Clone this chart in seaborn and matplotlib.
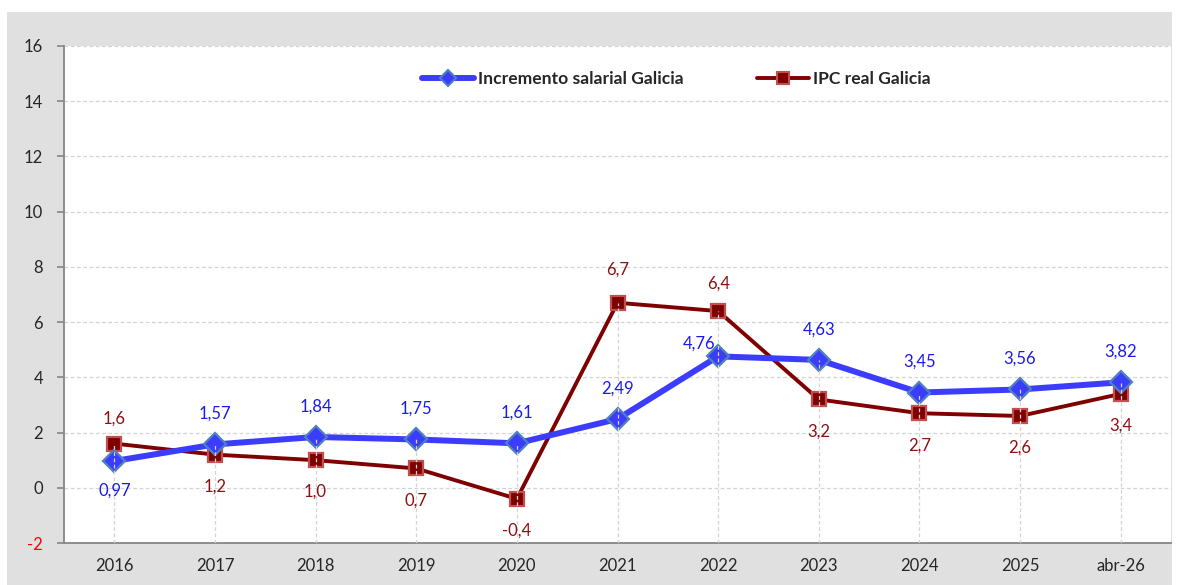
import matplotlib
matplotlib.use("Agg")
import matplotlib.pyplot as plt
import seaborn as sns
import numpy as np
import pandas as pd
from matplotlib.patches import Rectangle
from matplotlib.lines import Line2D

categories = ["2016", "2017", "2018", "2019", "2020", "2021", "2022", "2023", "2024", "2025", "abr-26"]
salarial = [0.97, 1.57, 1.84, 1.75, 1.61, 2.49, 4.76, 4.63, 3.45, 3.56, 3.82]
ipc = [1.6, 1.2, 1.0, 0.7, -0.4, 6.7, 6.4, 3.2, 2.7, 2.6, 3.4]
series_names = ["Incremento salarial Galicia", "IPC real Galicia"]
y_ticks = [-2, 0, 2, 4, 6, 8, 10, 12, 14, 16]

sns.set_theme(style="white")
plt.rcParams["font.family"] = ["Lato", "DejaVu Sans"]

BLUE = "#3c3cff"
BLUE_EDGE = "#4f81bd"
DARKRED = "#7f0000"
RED_EDGE = "#c0504d"
BLUE_TXT = "#1a1aee"
RED_TXT = "#8b1010"
FS = 12

fig = plt.figure(figsize=(11.78, 5.85), dpi=100)
fig.patch.set_facecolor("white")
bg = Rectangle((7 / 1178, 0), (1172 - 7) / 1178, 1 - 12 / 585,
               transform=fig.transFigure, facecolor="#e0e0e0",
               edgecolor="none", zorder=-10)
fig.add_artist(bg)
ax = fig.add_axes([64 / 1178, 42 / 585, (1171 - 64) / 1178, (543 - 46) / 585])
ax.set_zorder(1)
ax.set_facecolor("white")

x = np.arange(len(categories))
df = pd.DataFrame({"x": np.concatenate([x, x]),
                   "value": salarial + ipc,
                   "serie": [series_names[0]] * len(x) + [series_names[1]] * len(x)})

sns.lineplot(data=df[df.serie == series_names[0]], x="x", y="value", ax=ax,
             color=BLUE, linewidth=4.3, marker="D", markersize=11.5,
             markerfacecolor=BLUE, markeredgecolor=BLUE_EDGE, markeredgewidth=1.6,
             zorder=4, legend=False)
sns.lineplot(data=df[df.serie == series_names[1]], x="x", y="value", ax=ax,
             color=DARKRED, linewidth=2.8, marker="s", markersize=9.5,
             markerfacecolor=DARKRED, markeredgecolor=RED_EDGE, markeredgewidth=1.6,
             zorder=3, legend=False)

# drop lines
tops = np.maximum(salarial, ipc)
ax.vlines(x, -2, tops, colors="#d4d4d4", linestyles=(0, (3, 2)), linewidth=0.9, zorder=5)

ax.set_xlim(-0.5, len(categories) - 0.5)
ax.set_ylim(-2, 16)
ax.set_yticks(y_ticks)
ax.set_yticklabels([str(t) for t in y_ticks], fontsize=FS)
ax.get_yticklabels()[0].set_color("red")
for yt in y_ticks[1:]:
    ax.axhline(yt, color="#d4d4d4", linestyle=(0, (3, 2)), linewidth=0.9, zorder=1)

ax.set_xticks(x)
ax.set_xticklabels(categories, fontsize=FS)
ax.set_xticks(np.arange(-0.5, len(categories), 1.0), minor=True)
ax.tick_params(axis="x", which="major", length=0, pad=11)
ax.tick_params(axis="x", which="minor", length=5, width=1.2, color="#868686", direction="out")
ax.tick_params(axis="y", length=5, width=1.2, color="#868686", direction="out", pad=10, left=True)
ax.set_xlabel("")
ax.set_ylabel("")
for s in ["top", "right"]:
    ax.spines[s].set_visible(False)
for s in ["left", "bottom"]:
    ax.spines[s].set_color("#868686")
    ax.spines[s].set_linewidth(1.3)

def fmt(v, d):
    return f"{v:.{d}f}".replace(".", ",")

blue_offsets = {0: (0, -21), 6: (-14, 9)}
for i, v in enumerate(salarial):
    dx, dy = blue_offsets.get(i, (0, 22))
    ax.annotate(fmt(v, 2), (x[i], v), xytext=(dx, dy), textcoords="offset points",
                ha="center", va="center", color=BLUE_TXT, fontsize=FS, zorder=6)

red_offsets = {0: (0, 18), 5: (0, 24), 6: (0, 20)}
for i, v in enumerate(ipc):
    dx, dy = red_offsets.get(i, (0, -23))
    ax.annotate(fmt(v, 1), (x[i], v), xytext=(dx, dy), textcoords="offset points",
                ha="center", va="center", color=RED_TXT, fontsize=FS, zorder=6)

handles = [
    Line2D([], [], color=BLUE, linewidth=4.3, marker="D", markersize=8,
           markerfacecolor=BLUE, markeredgecolor=BLUE_EDGE, markeredgewidth=1.5),
    Line2D([], [], color=DARKRED, linewidth=2.8, marker="s", markersize=8,
           markerfacecolor=DARKRED, markeredgecolor=RED_EDGE, markeredgewidth=1.5),
]
leg = ax.legend(handles, series_names, loc="center", bbox_to_anchor=(0.553, 0.933),
                ncol=2, frameon=False, handlelength=3.0, handletextpad=0.2,
                columnspacing=4.2, prop={"weight": "bold", "size": 12.6})

fig.savefig("out.png", dpi=100, facecolor=fig.get_facecolor())
